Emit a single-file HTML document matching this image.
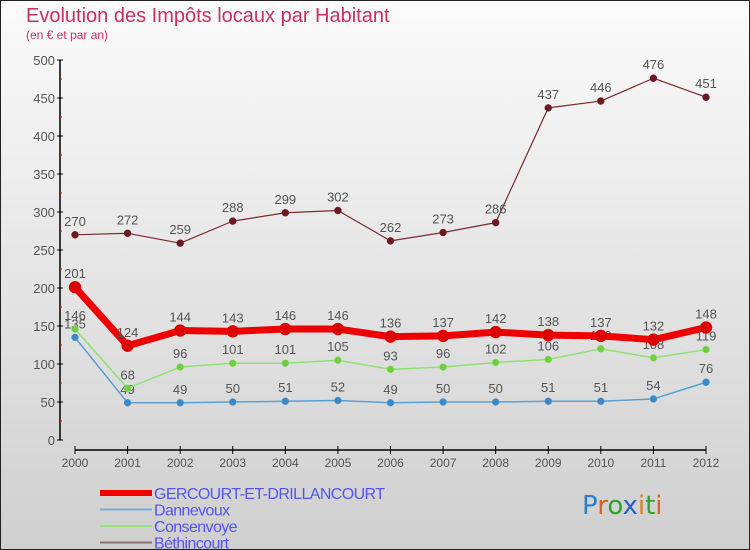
<!DOCTYPE html>
<html><head><meta charset="utf-8"><style>
body{margin:0}
#c{width:750px;height:550px;position:relative;box-sizing:border-box;border:1px solid #222;background:linear-gradient(#fbfbfb,#cfcfcf);font-family:"Liberation Sans","DejaVu Sans",sans-serif;overflow:hidden}
</style></head><body>
<div id="c">
<svg id="s" width="750" height="550" style="position:absolute;left:-1px;top:-1px"></svg>
</div>
<script>
const years=[2000,2001,2002,2003,2004,2005,2006,2007,2008,2009,2010,2011,2012];
const gercourt=[201,124,144,143,146,146,136,137,142,138,137,132,148];
const dannevoux=[135,49,49,50,51,52,49,50,50,51,51,54,76];
const consenvoye=[146,68,96,101,101,105,93,96,102,106,120,108,119];
const bethincourt=[270,272,259,288,299,302,262,273,286,437,446,476,451];
const yTicks=[0,50,100,150,200,250,300,350,400,450,500];
const s=document.getElementById('s');
const NS='http://www.w3.org/2000/svg';
const X=i=>75+i*(631/12);
const Y=v=>440-v*0.76;
function el(t,a,txt){const e=document.createElementNS(NS,t);for(const k in a)e.setAttribute(k,a[k]);if(txt!==undefined)e.textContent=txt;s.appendChild(e);return e;}
let e;
e=el('text',{x:26,y:22,fill:'#c8305e','font-size':20},'Evolution des Impôts locaux par Habitant');

e=el('text',{x:26,y:39,fill:'#c8305e','font-size':12},'(en € et par an)');

e=el('line',{x1:60,y1:60,x2:60,y2:440,stroke:'#000','stroke-width':1.5});

yTicks.forEach(v=>{
 el('line',{x1:57,x2:63,y1:Y(v),y2:Y(v),stroke:'#000'});
 e=el('text',{x:55,y:Y(v)+5,'text-anchor':'end','font-size':13,fill:'#555'},v);
 
 if(v<500){el('line',{x1:59,x2:62,y1:Y(v+25),y2:Y(v+25),stroke:'#d00'});}
});
e=el('line',{x1:X(0),y1:450,x2:X(12),y2:450,stroke:'#000','stroke-width':1.5});

years.forEach((yr,i)=>{
 el('line',{x1:X(i),x2:X(i),y1:446,y2:454,stroke:'#000'});
 e=el('text',{x:X(i),y:467,'text-anchor':'middle','font-size':12,fill:'#555'},yr);
 
});
function series(name,data,color,dot,w,r){
 const p=data.map((v,i)=>X(i)+','+Y(v)).join(' ');
 e=el('polyline',{points:p,fill:'none',stroke:color,'stroke-width':w,'stroke-linejoin':'round'});
 
 data.forEach((v,i)=>{
  e=el('circle',{cx:X(i),cy:Y(v),r:r,fill:dot,stroke:color,'stroke-width':0.5});
  
  e=el('text',{x:X(i),y:Y(v)-9,'text-anchor':'middle','font-size':13,fill:'#555'},v);
  
 });
}
series('bethincourt',bethincourt,'#7a2a30','#6b1a22',1.2,3.5);
series('dannevoux',dannevoux,'#5a9fd0','#3b88c8',1.5,3.5);
series('consenvoye',consenvoye,'#90e070','#70cc40',1.5,3.5);
series('gercourt',gercourt,'#ee0000','#dd0000',7,6);
const leg=[['GERCOURT-ET-DRILLANCOURT','#ee0000',6],['Dannevoux','#7aaad0',2],['Consenvoye','#99e080',2],['Béthincourt','#957070',2]];
leg.forEach((l,i)=>{
 const y=493+i*16.5;
 e=el('line',{x1:100,x2:152,y1:y,y2:y,stroke:l[1],'stroke-width':l[2]});
 
 e=el('text',{x:154,y:y+6,'font-size':16,fill:'#5555ee','letter-spacing':'-0.6'},l[0]);
 
});
e=el('text',{x:582,y:514,'font-size':26,'font-family':'DejaVu Sans'});

[['P','#2a7fd0'],['r','#e06020'],['o','#30a030'],['x','#2a60c0'],['i','#e08020'],['t','#30a030'],['i','#e06020']].forEach(c=>{const t=document.createElementNS(NS,'tspan');t.setAttribute('fill',c[1]);t.textContent=c[0];e.appendChild(t);});
</script>
</body></html>
